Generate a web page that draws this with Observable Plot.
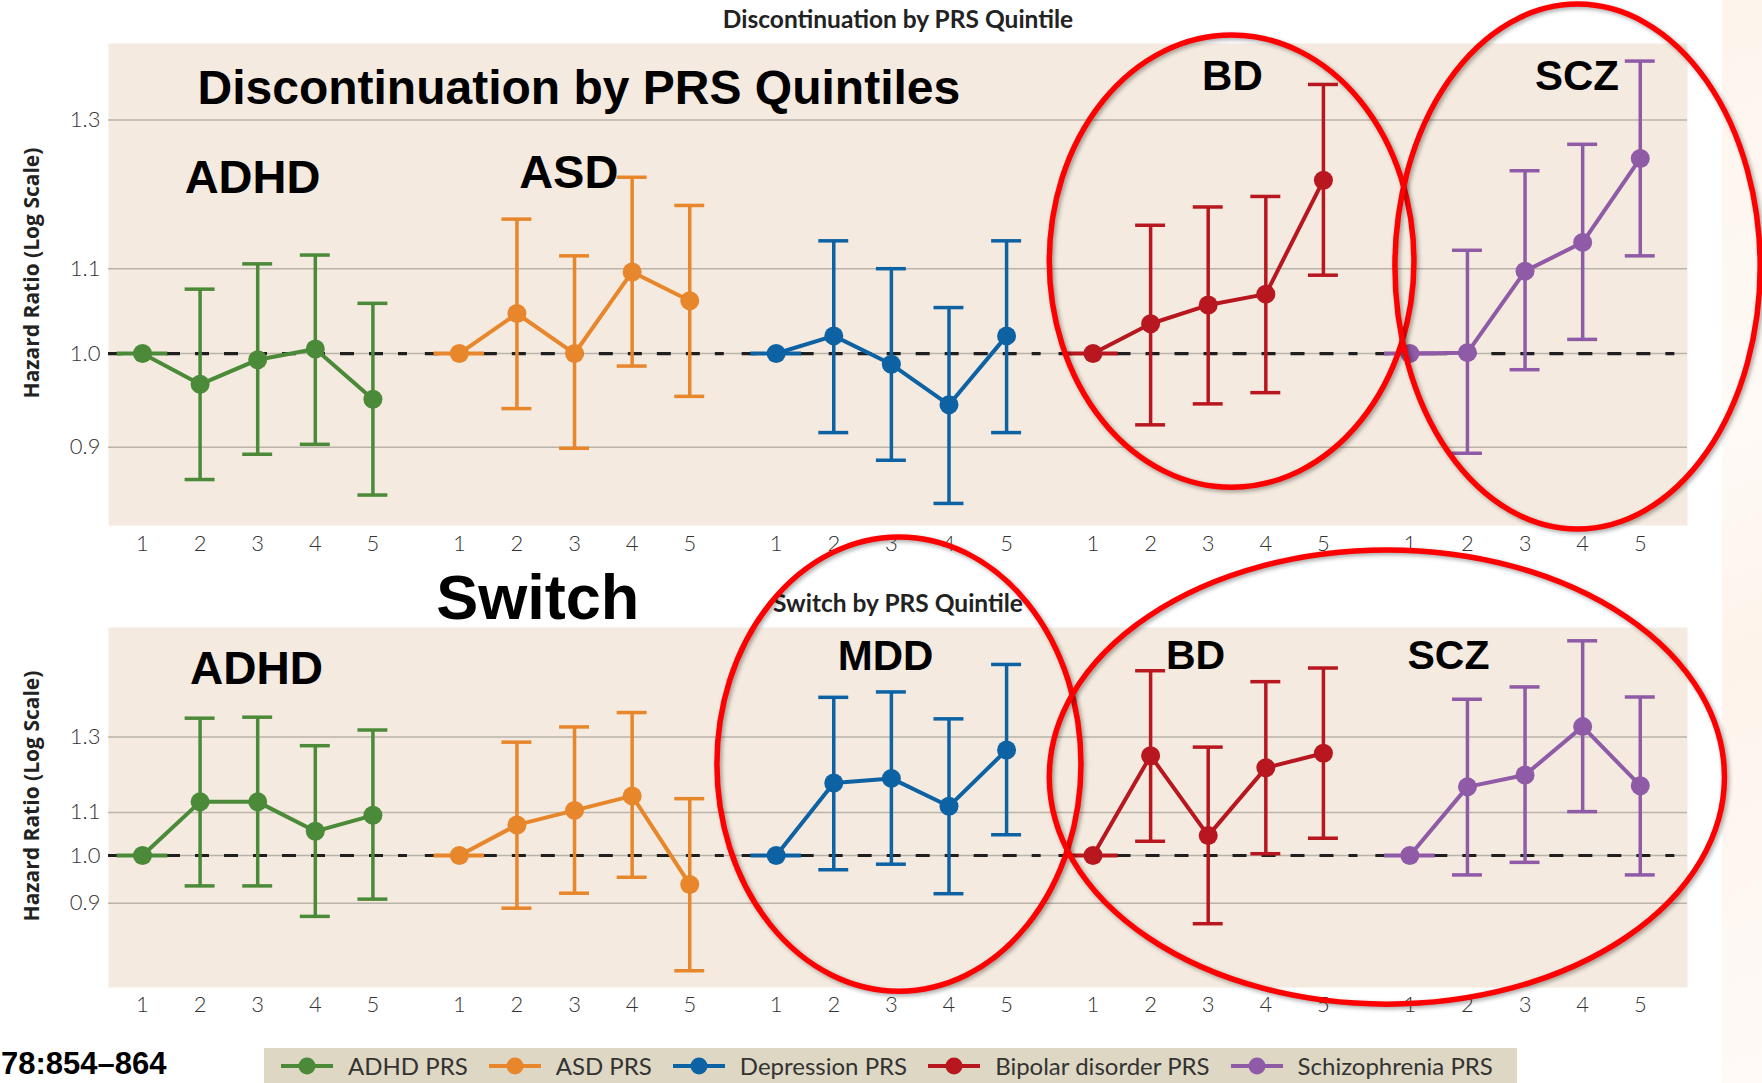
<!DOCTYPE html>
<html>
<head>
<meta charset="utf-8">
<script src="https://cdn.jsdelivr.net/npm/d3@7"></script>
<script src="https://cdn.jsdelivr.net/npm/@observablehq/plot@0.6"></script>
<style>
  html, body { margin: 0; padding: 0; background: #fff; }
  #stage { position: relative; width: 1762px; height: 1083px; overflow: hidden; background: #fff; }
  .abs { position: absolute; white-space: nowrap; }
  .subt { font-family: Lato, "Liberation Sans", sans-serif; font-weight: 700; font-size: 24.5px; color: #222; line-height: 1; transform: translate(-50%, -50%); }
  .ytitle { font-family: "Open Sans", "DejaVu Sans", sans-serif; font-weight: 700; font-size: 21px; color: #222; line-height: 1; transform: translate(-50%, -50%) rotate(-90deg); }
  #legend { left: 264px; top: 1048px; width: 1253px; height: 35px; background: #ddd7c3; display: flex; align-items: flex-start; padding-top: 6px; box-sizing: border-box; padding-left: 17px; }
  .litem { display: flex; align-items: center; margin-right: 21px; font-family: Lato, "Liberation Sans", sans-serif; font-size: 24px; line-height: 1; color: #333; }
  .litem svg { margin-right: 15px; }
  #footer { left: 1px; top: 1048px; font-family: "Liberation Sans", Arial, sans-serif; font-weight: 700; font-size: 31px; line-height: 1; color: #000; }
  #peach { left: 1722px; top: 0; width: 40px; height: 1083px; background: linear-gradient(160deg, #fdf4ec 0%, #fffaf6 40%, #fdf3eb 60%, #fffaf7 100%); }
</style>
</head>
<body>
<div id="stage">
  <div id="peach" class="abs"></div>
  <div class="abs subt" style="left:898px; top:19px;">Discontinuation by PRS Quintile</div>
  <div class="abs subt" style="left:898px; top:603px;">Switch by PRS Quintile</div>
  <div class="abs ytitle" style="left:31px; top:273px;">Hazard Ratio (Log Scale)</div>
  <div class="abs ytitle" style="left:31px; top:796px;">Hazard Ratio (Log Scale)</div>
  <div id="legend" class="abs"></div>
  <div id="footer" class="abs">78:854–864</div>
</div>
<script>
// ---------------- DATA ----------------
const groups = ["ADHD PRS", "ASD PRS", "Depression PRS", "Bipolar disorder PRS", "Schizophrenia PRS"];
const colors = ["#4b8a38", "#e8862b", "#0d62a4", "#b8171f", "#8f5ba6"];
const quintiles = [1, 2, 3, 4, 5];
const yTickValues = [0.9, 1.0, 1.1, 1.3];

// Discontinuation: hazard ratio, lower and upper 95% CI (rows = PRS groups, cols = quintiles)
const discHR = [
  [1.000, 0.966, 0.993, 1.005, 0.950],
  [1.000, 1.046, 1.000, 1.096, 1.061],
  [1.000, 1.020, 0.988, 0.944, 1.020],
  [1.000, 1.034, 1.056, 1.069, 1.215],
  [1.000, 1.001, 1.097, 1.133, 1.245]
];
const discLo = [
  [1.000, 0.868, 0.893, 0.903, 0.853],
  [1.000, 0.940, 0.899, 0.986, 0.953],
  [1.000, 0.915, 0.887, 0.845, 0.915],
  [1.000, 0.923, 0.945, 0.957, 1.092],
  [1.000, 0.894, 0.982, 1.016, 1.116]
];
const discHi = [
  [1.000, 1.075, 1.106, 1.117, 1.058],
  [1.000, 1.163, 1.116, 1.219, 1.181],
  [1.000, 1.135, 1.100, 1.053, 1.135],
  [1.000, 1.155, 1.179, 1.193, 1.353],
  [1.000, 1.123, 1.228, 1.265, 1.389]
];

// Switch: hazard ratio, lower and upper 95% CI
const switchHR = [
  [1.000, 1.126, 1.126, 1.055, 1.093],
  [1.000, 1.070, 1.105, 1.141, 0.938],
  [1.000, 1.174, 1.186, 1.115, 1.263],
  [1.000, 1.247, 1.045, 1.214, 1.254],
  [1.000, 1.164, 1.195, 1.330, 1.167]
];
const switchLo = [
  [1.000, 0.935, 0.935, 0.874, 0.908],
  [1.000, 0.890, 0.920, 0.953, 0.775],
  [1.000, 0.969, 0.981, 0.919, 1.047],
  [1.000, 1.032, 0.860, 1.004, 1.039],
  [1.000, 0.958, 0.985, 1.102, 0.958]
];
const switchHi = [
  [1.000, 1.355, 1.358, 1.275, 1.320],
  [1.000, 1.285, 1.329, 1.372, 1.134],
  [1.000, 1.419, 1.436, 1.353, 1.526],
  [1.000, 1.505, 1.271, 1.469, 1.514],
  [1.000, 1.413, 1.452, 1.608, 1.420]
];

// Annotation labels (text)
const discLabels = ["Discontinuation by PRS Quintiles", "ADHD", "ASD", "BD", "SCZ"];
const switchLabels = ["Switch", "ADHD", "MDD", "BD", "SCZ"];

// ---------------- LAYOUT ----------------
const groupStep = 5.5;
const xDomain = [-0.59, 26.82];

function buildRows(hr, lo, hi) {
  const rows = [];
  groups.forEach((g, gi) => quintiles.forEach((q, qi) => {
    rows.push({group: g, gi, q, x: gi * groupStep + qi, hr: hr[gi][qi], lo: lo[gi][qi], hi: hi[gi][qi]});
  }));
  return rows;
}

const ns = "http://www.w3.org/2000/svg";
function ellipseMark(list) {
  return function (...args) {
    const sc = args.find(a => a && typeof a.x === "function" && typeof a.y === "function");
    if (!sc) return null;
    const g = document.createElementNS(ns, "g");
    for (const e of list) {
      const x1 = sc.x(e.x1), x2 = sc.x(e.x2), y1 = sc.y(e.y1), y2 = sc.y(e.y2);
      const el = document.createElementNS(ns, "ellipse");
      el.setAttribute("cx", (x1 + x2) / 2);
      el.setAttribute("cy", (y1 + y2) / 2);
      el.setAttribute("rx", Math.abs(x2 - x1) / 2);
      el.setAttribute("ry", Math.abs(y2 - y1) / 2);
      el.setAttribute("fill", "none");
      el.setAttribute("stroke", "#ff0000");
      el.setAttribute("stroke-width", 5.5);
      el.setAttribute("style", "filter: drop-shadow(2px 2px 2px rgba(0,0,0,0.35));");
      g.appendChild(el);
    }
    return g;
  };
}

function panel(cfg) {
  const rows = buildRows(cfg.hr, cfg.lo, cfg.hi);
  const q1 = rows.filter(d => d.q === 1);
  const rest = rows.filter(d => d.q > 1);
  const gIdx = groups.map((g, i) => i);
  const labelMarks = cfg.labels.map(l => Plot.text([l], {
    x: "x", y: "y", text: "text", textAnchor: l.anchor, lineAnchor: "bottom",
    fontFamily: "'Liberation Sans', Arial, Helvetica, sans-serif", fontWeight: 700,
    fontSize: l.size, fill: "#000"
  }));
  const svg = Plot.plot({
    width: 1762, height: cfg.height,
    marginTop: cfg.marginTop, marginBottom: cfg.marginBottom, marginLeft: 108, marginRight: 75,
    x: {type: "linear", domain: xDomain, axis: null},
    y: {type: "log", domain: cfg.yDomain, axis: null},
    color: {domain: groups, range: colors},
    style: {background: "transparent", overflow: "visible"},
    marks: [
      Plot.frame({fill: "#f4eadf", stroke: "none"}),
      Plot.ruleY(yTickValues, {stroke: "#b9b3aa", strokeWidth: 1.5}),
      Plot.ruleY(gIdx, {y: () => 1, x1: i => i * groupStep - 0.59, x2: i => i * groupStep + 4.6,
        stroke: "#1f1f1f", strokeWidth: 3.2, strokeDasharray: "14,15"}),
      Plot.ruleY(q1, {y: "hr", x1: d => d.x - 0.44, x2: d => d.x + 0.44, stroke: "group", strokeWidth: 4}),
      Plot.ruleX(rest, {x: "x", y1: "lo", y2: "hi", stroke: "group", strokeWidth: 3.5}),
      Plot.ruleY(rest, {y: "lo", x1: d => d.x - 0.26, x2: d => d.x + 0.26, stroke: "group", strokeWidth: 3.5}),
      Plot.ruleY(rest, {y: "hi", x1: d => d.x - 0.26, x2: d => d.x + 0.26, stroke: "group", strokeWidth: 3.5}),
      Plot.line(rows, {x: "x", y: "hr", z: "group", stroke: "group", strokeWidth: 4}),
      Plot.dot(rows, {x: "x", y: "hr", r: 9.5, fill: "group"}),
      Plot.text(yTickValues, {y: d => d, text: d => d.toFixed(1), frameAnchor: "left", textAnchor: "end", dx: -8,
        fontFamily: "Lato, 'Liberation Sans', sans-serif", fontWeight: 300, fontSize: 22, fill: "#333"}),
      Plot.text(rows, {x: "x", text: d => String(d.q), frameAnchor: "bottom", lineAnchor: "top", dy: cfg.tickDy,
        fontFamily: "Lato, 'Liberation Sans', sans-serif", fontWeight: 300, fontSize: 22, fill: "#333"}),
      ...labelMarks,
      ellipseMark(cfg.ellipses)
    ]
  });
  svg.style.position = "absolute";
  svg.style.left = "0px";
  svg.style.top = cfg.top + "px";
  svg.style.overflow = "visible";
  svg.style.background = "transparent";
  document.getElementById("stage").appendChild(svg);
}

panel({
  hr: discHR, lo: discLo, hi: discHi,
  top: 0, height: 560, marginTop: 43, marginBottom: 35, tickDy: 10,
  yDomain: [0.8243, 1.4167],
  labels: [
    {text: discLabels[0], x: 0.955, y: 1.324, size: 48, anchor: "start"},
    {text: discLabels[1], x: 1.91, y: 1.197, size: 47, anchor: "middle"},
    {text: discLabels[2], x: 7.40, y: 1.204, size: 47, anchor: "middle"},
    {text: discLabels[3], x: 18.92, y: 1.345, size: 42, anchor: "middle"},
    {text: discLabels[4], x: 24.9, y: 1.345, size: 42, anchor: "middle"}
  ],
  ellipses: [
    {x1: 15.75, x2: 22.08, y1: 1.4295, y2: 0.860},
    {x1: 21.75, x2: 28.09, y1: 1.480, y2: 0.8206}
  ]
});

panel({
  hr: switchHR, lo: switchLo, hi: switchHi,
  top: 520, height: 520, marginTop: 107, marginBottom: 53, tickDy: 9,
  yDomain: [0.7468, 1.656],
  labels: [
    {text: switchLabels[0], x: 5.10, y: 1.689, size: 63, anchor: "start"},
    {text: switchLabels[1], x: 1.98, y: 1.460, size: 46, anchor: "middle"},
    {text: switchLabels[2], x: 12.9, y: 1.506, size: 42, anchor: "middle"},
    {text: switchLabels[3], x: 18.28, y: 1.512, size: 41, anchor: "middle"},
    {text: switchLabels[4], x: 22.67, y: 1.512, size: 41, anchor: "middle"}
  ],
  ellipses: [
    {x1: 9.98, x2: 16.30, y1: 2.021, y2: 0.740},
    {x1: 15.75, x2: 27.47, y1: 1.964, y2: 0.719}
  ]
});

// Legend
const legend = document.getElementById("legend");
groups.forEach((g, i) => {
  const item = document.createElement("div");
  item.className = "litem";
  item.innerHTML = `<svg width="52" height="22" viewBox="0 0 52 22"><line x1="0" x2="52" y1="11" y2="11" stroke="${colors[i]}" stroke-width="4"/><circle cx="26" cy="11" r="8.5" fill="${colors[i]}"/></svg><span>${g}</span>`;
  legend.appendChild(item);
});
// keep footer on top of plots
document.getElementById("stage").appendChild(document.getElementById("footer"));
</script>
</body>
</html>
